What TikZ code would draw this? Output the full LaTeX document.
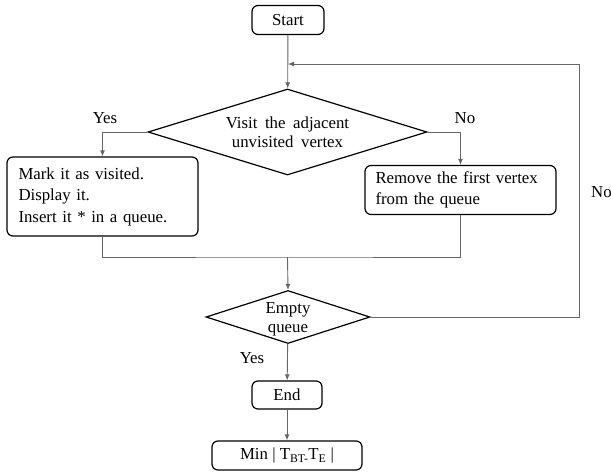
\documentclass[tikz,border=0pt]{standalone}
\usepackage{fontspec}
\setmainfont[WordSpace=1.8]{Liberation Serif}
\newfontfamily\tightfont{Liberation Serif}
\usetikzlibrary{shapes.geometric,arrows.meta}

\tikzset{
  box/.style={draw=black, line width=1.2pt, rounded corners=6pt, inner sep=0pt},
  dec/.style={draw=black, line width=1.2pt, diamond, inner sep=0pt, aspect=3,
    font=\fontsize{16.8}{19.5}\selectfont},
  flow/.style={draw=black!60, line width=0.9pt},
  tip/.style={flow, -{Latex[length=6pt,width=5pt]}},
  lbl/.style={inner sep=0pt}
}

\begin{document}
\begin{tikzpicture}[x=1pt, y=-1pt, font=\fontsize{16.8}{21.5}\selectfont]
\useasboundingbox (0,0) rectangle (611,472);

\node[box, minimum width=72pt, minimum height=29pt] (start) at (288,20) {Start};
\node[dec, minimum width=279pt, minimum height=86pt, align=center] (visit) at (287.5,132) {Visit the adjacent\\unvisited vertex};
\node[box, minimum width=191pt, minimum height=79pt, text width=168pt, align=left] (mark) at (102.5,196.5) {Mark it as visited.\\Display it.\\Insert it * in a queue.};
\node[box, minimum width=191pt, minimum height=49pt, text width=170pt, align=left] (remove) at (460.5,190) {Remove the first vertex\\from the queue};
\node[dec, minimum width=164pt, minimum height=53pt] (empty) at (288,317) {};
\node[dec, draw=none, align=center] (emptytxt) at (288,319.5) {Empty\\queue};
\node[box, minimum width=70pt, minimum height=28pt] (end) at (287,395) {End};
\node[box, minimum width=150pt, minimum height=29pt, font=\tightfont\fontsize{16.8}{20}\selectfont] (min) at (287,455.5) {Min | T\textsubscript{BT-}T\textsubscript{E} |};

\coordinate (join) at (288,64);
\coordinate (back) at (579,64);
\coordinate (merge) at (287.5,257);

% main line and loop back
\draw[tip] (start) -- (visit);
\draw[tip] (empty.east) -| (back) -- (join);
\draw[tip] (visit.west) -| (mark.north);
\draw[tip] (visit.east) -| (remove.north);
\draw[flow] (mark.south) |- (merge) -| (remove.south);
\draw[tip] (merge) -- (empty.north);
\draw[tip] (empty) -- (end);
\draw[tip] (end) -- (min);

\node[lbl] (yes1) at (105,118) {Yes};
\node[lbl] (no1) at (465,118) {No};
\node[lbl, anchor=west] (no2) at (591,192) {No};
\node[lbl] (yes2) at (252,358) {Yes};
\end{tikzpicture}
\end{document}
